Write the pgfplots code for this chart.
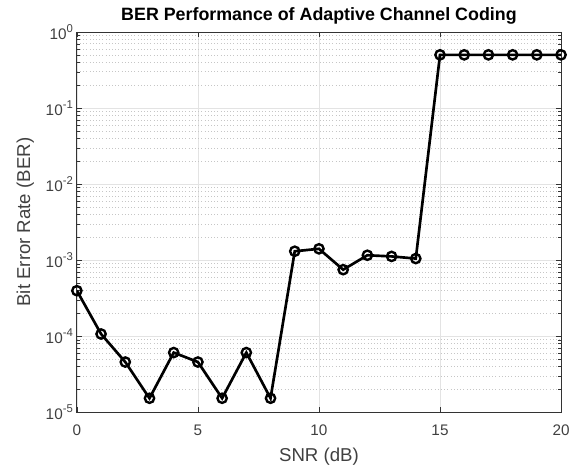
\documentclass[border=0pt]{standalone}
\usepackage{pgfplots}
\pgfplotsset{compat=1.18}
\usepackage{fontspec}
\setmainfont{Liberation Sans}
\newcommand{\tp}[1]{10\raisebox{0.45em}{\fontsize{8.5}{9}\selectfont #1}}
\begin{document}
\begin{tikzpicture}[x=1pt,y=1pt]
\begin{axis}[
  name=ax,
  scale only axis,
  width=363.75pt, height=285.75pt,
  ymode=log,
  xmin=0, xmax=20, ymin=1e-5, ymax=1,
  xtick={0,5,10,15,20},
  xticklabels={0,5,10,15,20},
  ytick={1e-5,1e-4,1e-3,1e-2,1e-1,1},
  yticklabels={\tp{-5},\tp{-4},\tp{-3},\tp{-2},\tp{-1},\tp{0}},
  grid=both,
  major grid style={gray!22, line width=0.5pt},
  minor grid style={gray!45, dotted, line width=0.4pt},
  minor x tick num=0,
  tick align=inside,
  tick pos=both,
  axis line style={black!80, line width=0.6pt},
  tick style={black!80},
  major tick length=4pt, minor tick length=2pt,
  ticklabel style={font=\fontsize{11.5}{13}\selectfont, text=black!75},
  xticklabel style={yshift=-6pt},
  yticklabel style={xshift=0.5pt},
  title={\textbf{BER Performance of Adaptive Channel Coding}},
  title style={font=\fontsize{13.4}{15}\selectfont, yshift=-3.5pt},
  xlabel={SNR (dB)},
  ylabel={Bit Error Rate (BER)},
  label style={font=\fontsize{14}{16}\selectfont, text=black!75},
  xlabel style={yshift=-2pt},
  ylabel style={yshift=2pt},
]
\addplot[black, line width=2pt, mark=o, mark size=3.5pt, mark options={line width=1.8pt}] coordinates {
(0,3.97e-4) (1,1.07e-4) (2,4.58e-5) (3,1.53e-5) (4,6.1e-5) (5,4.58e-5)
(6,1.53e-5) (7,6.1e-5) (8,1.53e-5) (9,1.31e-3) (10,1.41e-3) (11,7.5e-4)
(12,1.16e-3) (13,1.12e-3) (14,1.05e-3) (15,0.5) (16,0.5) (17,0.5)
(18,0.5) (19,0.5) (20,0.5)
};
\end{axis}
\path (ax.south west) ++(-57.75pt,-39pt);
\path (ax.north east) ++(9pt,24pt);
\end{tikzpicture}
\end{document}
